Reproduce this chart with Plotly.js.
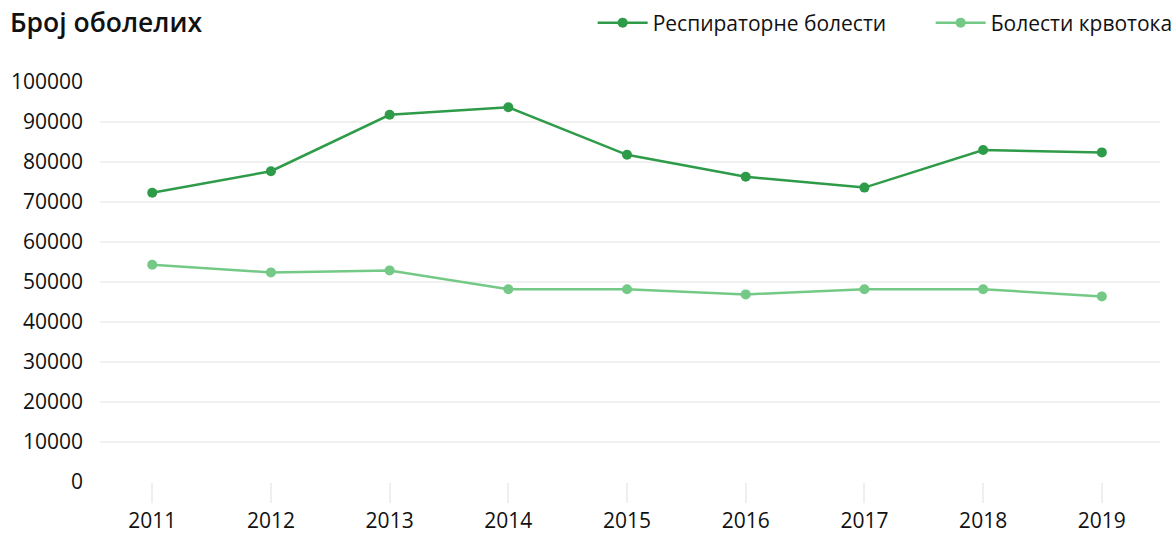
<!DOCTYPE html>
<html>
<head>
<meta charset="utf-8">
<script src="https://cdn.plot.ly/plotly-3.0.1.min.js"></script>
<style>html,body{margin:0;padding:0;background:#fff;}#chart{width:1176px;height:533px;}</style>
</head>
<body>
<div id="chart"></div>
<script>
const years = ['2011','2012','2013','2014','2015','2016','2017','2018','2019'];
const respiratory = [72300, 77700, 91800, 93700, 81800, 76300, 73600, 83000, 82400];
const circulatory = [54300, 52400, 52900, 48200, 48200, 46900, 48200, 48200, 46400];
const seriesNames = ['Респираторне болести', 'Болести крвотока'];
const chartTitle = 'Број оболелих';

const font = {family: '"Open Sans", "Noto Sans", sans-serif', size: 21, color: '#111'};

const traces = [
  {x: years, y: respiratory, name: seriesNames[0], type: 'scatter', mode: 'lines+markers',
   line: {color: '#2e9b48', width: 2.5}, marker: {color: '#2e9b48', size: 10}},
  {x: years, y: circulatory, name: seriesNames[1], type: 'scatter', mode: 'lines+markers',
   line: {color: '#74c987', width: 2.5}, marker: {color: '#74c987', size: 10}}
];

const layout = {
  width: 1176, height: 533,
  margin: {l: 100, r: 16, t: 82, b: 51, autoexpand: false},
  paper_bgcolor: '#fff', plot_bgcolor: '#fff',
  font: font,
  showlegend: true,
  title: {text: chartTitle, xref: 'container', x: 0.0085, xanchor: 'left',
          yref: 'container', y: 0.957, yanchor: 'middle',
          font: {size: 26.5, weight: 600, color: '#111', family: font.family}},
  legend: {orientation: 'h', xanchor: 'right', x: 1.1025, yanchor: 'middle', y: 1.1475,
           font: {size: 21, color: '#111'}, bgcolor: 'rgba(0,0,0,0)', itemwidth: 50,
           entrywidth: 273, tracegroupgap: 0},
  xaxis: {type: 'category', range: [-0.44, 8.49], showgrid: false, zeroline: false, showline: false,
          ticks: 'outside', ticklen: 20, tickwidth: 2, tickcolor: '#efefef', ticklabelstandoff: 0,
          tickfont: {size: 21, color: '#111'}, fixedrange: true},
  yaxis: {range: [0, 100000], dtick: 10000, showgrid: true, gridcolor: '#f1f1f1', gridwidth: 2,
          zeroline: false, showline: false, ticks: '', tickformat: 'd',
          ticklabelstandoff: 16, tickfont: {size: 21, color: '#111'}, fixedrange: true}
};

Plotly.newPlot('chart', traces, layout, {displayModeBar: false, staticPlot: true});
</script>
</body>
</html>
